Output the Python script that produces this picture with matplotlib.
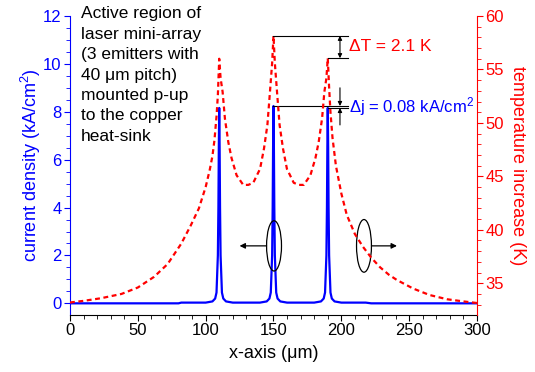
"""Current density and temperature rise across a 3-emitter laser mini-array."""

import matplotlib
matplotlib.use("Agg")
import matplotlib.pyplot as plt
from matplotlib.patches import Ellipse

plt.rcParams["font.family"] = ["Liberation Sans", "DejaVu Sans"]
plt.rcParams["mathtext.fontset"] = "custom"
plt.rcParams["mathtext.rm"] = "Liberation Sans"
plt.rcParams["mathtext.it"] = "Liberation Sans:italic"
plt.rcParams["mathtext.default"] = "regular"

# current density (kA/cm^2) vs x (um)
j_x = [0, 80, 82, 100, 105, 107, 108, 109, 109.4, 109.7, 110, 110.3, 110.6,
       111, 112, 113, 115, 120, 140, 145, 147, 148, 149, 149.4, 149.7, 150,
       150.3, 150.6, 151, 152, 153, 155, 160, 180, 185, 187, 188, 189, 189.4,
       189.7, 190, 190.3, 190.6, 191, 192, 193, 195, 200, 218, 222, 300]
j_val = [0.0, 0.0, 0.03, 0.03, 0.08, 0.2, 0.45, 2.0, 4.0, 6.5, 8.16, 6.5, 4.0,
         2.0, 0.45, 0.2, 0.08, 0.03, 0.03, 0.08, 0.2, 0.45, 2.0, 4.0, 6.5, 8.24,
         6.5, 4.0, 2.0, 0.45, 0.2, 0.08, 0.03, 0.03, 0.08, 0.2, 0.45, 2.0, 4.0,
         6.5, 8.16, 6.5, 4.0, 2.0, 0.45, 0.2, 0.08, 0.03, 0.03, 0.0, 0.0]

# temperature increase (K) vs x (um)
t_x = [0, 10, 23, 38, 50, 62, 72, 82, 89, 95, 100, 103, 105, 106.5, 108,
       109, 110, 111, 112.5, 114.2, 116.7, 119.1, 122.8, 127.7, 131.4, 135.1,
       140.1, 143, 145.5, 147.4, 149, 150, 151, 152.6, 154.5, 157, 159.9,
       164.9, 168.6, 172.3, 177.2, 180.9, 183.3, 185.8, 187.5, 189, 190, 191,
       192, 193.5, 196, 200, 204, 210, 216, 222, 228.5, 235, 241, 253, 265,
       278, 290, 300]
t_val = [33.2, 33.35, 33.6, 34.0, 34.6, 35.6, 36.8, 38.7, 40.4, 42.0, 44.0,
         45.6, 46.9, 48.4, 50.6, 52.6, 56.0, 54.2, 52.9, 50.4, 48.2, 46.7,
         45.1, 44.2, 44.2, 44.4, 45.7, 47.6, 49.8, 52.9, 55.6, 58.15, 55.6,
         52.9, 49.8, 47.6, 45.7, 44.4, 44.2, 44.2, 45.1, 46.7, 48.2, 50.4,
         52.9, 54.2, 56.05, 53.3, 51.0, 48.6, 46.0, 43.4, 41.4, 39.6, 38.4,
         37.4, 36.5, 35.8, 35.3, 34.5, 33.9, 33.5, 33.3, 33.15]

BLUE = "#0000ff"
RED = "#ff0000"

fig = plt.figure(figsize=(5.35, 3.72), dpi=100)
ax = fig.add_axes([0.1308, 0.1524, 0.7608, 0.8046])
ax2 = ax.twinx()

ax.plot(j_x, j_val, color=BLUE, lw=1.6, zorder=3)
ax2.plot(t_x, t_val, color=RED, lw=1.6, dashes=(2.2, 1.6))

ax.set_xlim(0, 300)
ax.set_ylim(-0.5, 12)
ax2.set_ylim(32, 60)

ax.set_xticks(range(0, 301, 50))
ax.set_xticks(range(0, 301, 10), minor=True)
ax.set_yticks(range(0, 13, 2))
ax.set_yticks([v / 2 for v in range(0, 25)], minor=True)
ax2.set_yticks(range(35, 61, 5))
ax2.set_yticks(range(33, 61), minor=True)

for a in (ax, ax2):
    a.spines["top"].set_visible(False)
ax.spines["left"].set_color(BLUE)
ax.spines["right"].set_visible(False)
ax2.spines["left"].set_visible(False)
ax2.spines["bottom"].set_visible(False)
ax2.spines["right"].set_color(RED)

ax.tick_params(axis="x", which="major", length=4, labelsize=12, pad=1.5)
ax.tick_params(axis="x", which="minor", length=3)
ax.tick_params(axis="y", which="both", colors=BLUE, labelcolor=BLUE)
ax.tick_params(axis="y", which="major", length=4, labelsize=12, pad=2)
ax.tick_params(axis="y", which="minor", length=3)
ax2.tick_params(axis="y", which="both", colors=RED, labelcolor=RED)
ax2.tick_params(axis="y", which="major", length=4, labelsize=12, pad=2)
ax2.tick_params(axis="y", which="minor", length=3)

ax.set_xlabel("x-axis (μm)", fontsize=13, labelpad=5)
ax.set_ylabel("current density (kA/cm$^2$)", fontsize=13, color=BLUE,
              labelpad=0)
ax2.set_ylabel("temperature increase (K)", fontsize=13, color=RED,
               rotation=270, labelpad=16)

ax.text(8, 12.4, "Active region of\nlaser mini-array\n(3 emitters with\n"
        "40 μm pitch)\nmounted p-up\nto the copper\nheat-sink",
        fontsize=12.5, va="top", ha="left", linespacing=1.45)

# delta T markers
x_end = 205
ax2.plot([150, x_end], [58.15, 58.15], color="black", lw=0.8)
ax2.plot([190, x_end], [56.05, 56.05], color="black", lw=0.8)
ax2.annotate("", xy=(199, 58.15), xytext=(199, 56.05),
             arrowprops=dict(arrowstyle="<|-|>", color="black", lw=0.8,
                             mutation_scale=6, shrinkA=0, shrinkB=0))
ax2.text(205.5, 57.1, "ΔT = 2.1 K", color=RED, fontsize=12.5, va="center")

# delta j markers
ax.plot([150, x_end], [8.24, 8.24], color="black", lw=0.8, zorder=4)
ax.plot([190, x_end], [8.16, 8.16], color="black", lw=0.8, zorder=4)
ax.annotate("", xy=(199, 8.24), xytext=(199, 9.0),
            arrowprops=dict(arrowstyle="-|>", color="black", lw=0.8,
                            mutation_scale=6, shrinkA=0, shrinkB=0))
ax.annotate("", xy=(199, 8.16), xytext=(199, 7.45),
            arrowprops=dict(arrowstyle="-|>", color="black", lw=0.8,
                            mutation_scale=6, shrinkA=0, shrinkB=0))
ax.text(205.5, 8.2, "Δj = 0.08 kA/cm$^2$", color=BLUE, fontsize=12,
        va="center")

# axis-assignment ellipses
ax.add_patch(Ellipse((150.4, 2.4), 11, 2.1, fill=False, ec="black", lw=0.9,
                     zorder=5))
ax.annotate("", xy=(125, 2.4), xytext=(144.9, 2.4),
            arrowprops=dict(arrowstyle="-|>", color="black", lw=0.9,
                            mutation_scale=8, shrinkA=0, shrinkB=0))
ax.add_patch(Ellipse((216.7, 2.4), 11, 2.2, fill=False, ec="black", lw=0.9,
                     zorder=5))
ax.annotate("", xy=(241, 2.4), xytext=(222.2, 2.4),
            arrowprops=dict(arrowstyle="-|>", color="black", lw=0.9,
                            mutation_scale=8, shrinkA=0, shrinkB=0))

fig.savefig("out.png", dpi=100)
